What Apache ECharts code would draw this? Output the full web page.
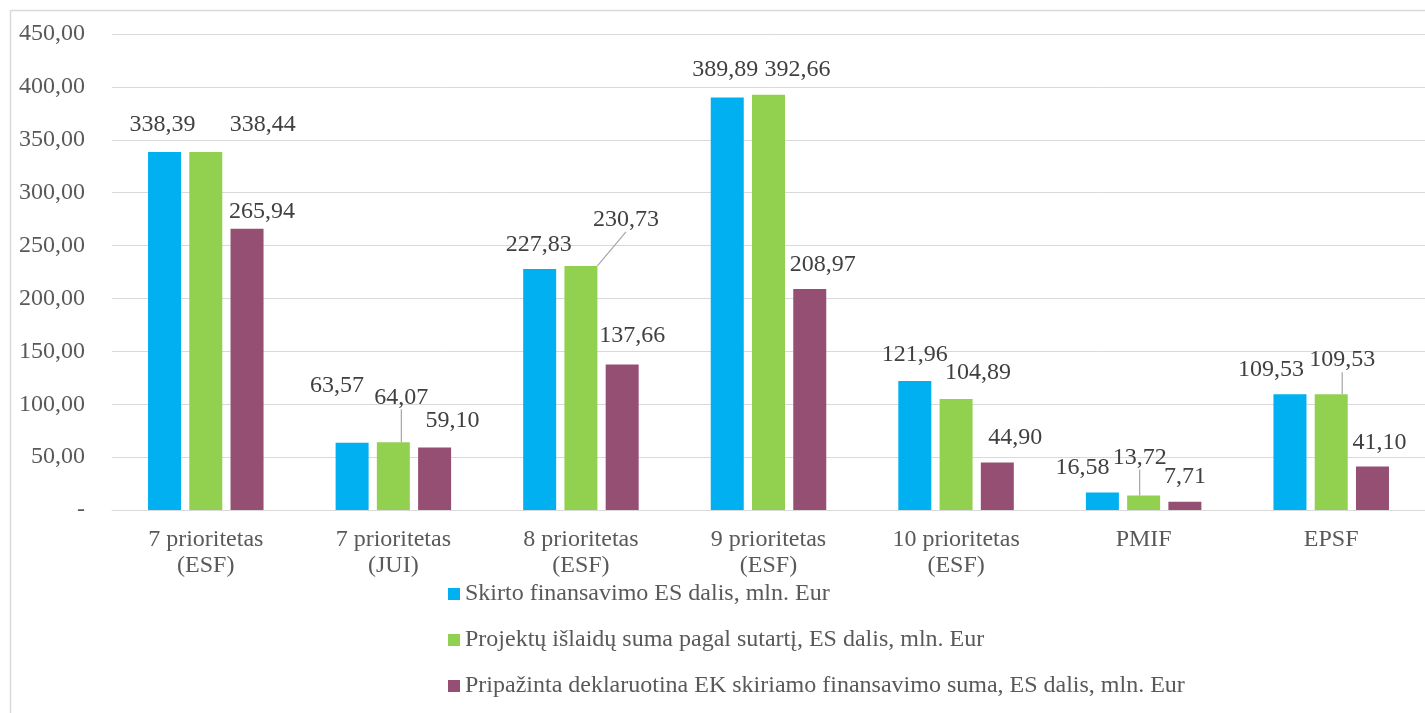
<!DOCTYPE html>
<html>
<head>
<meta charset="utf-8">
<script src="https://cdn.jsdelivr.net/npm/echarts@6/dist/echarts.min.js"></script>
<style>
html,body{margin:0;padding:0;background:#fff;}
#chart{width:1425px;height:713px;}
</style>
</head>
<body>
<div id="chart"></div>
<script>
const categories = ['7 prioritetas\n(ESF)', '7 prioritetas\n(JUI)', '8 prioritetas\n(ESF)', '9 prioritetas\n(ESF)', '10 prioritetas\n(ESF)', 'PMIF', 'EPSF'];
const seriesNames = [
  'Skirto finansavimo ES dalis, mln. Eur',
  'Projektų išlaidų suma pagal sutartį, ES dalis, mln. Eur',
  'Pripažinta deklaruotina EK skiriamo finansavimo suma, ES dalis, mln. Eur'
];
const skirto = [338.39, 63.57, 227.83, 389.89, 121.96, 16.58, 109.53];
const projektu = [338.44, 64.07, 230.73, 392.66, 104.89, 13.72, 109.53];
const pripazinta = [265.94, 59.10, 137.66, 208.97, 44.90, 7.71, 41.10];
const yTicks = { min: 0, max: 450, interval: 50 };

// label nudges (style only): [dx, dy] per series per category
const labelNudges = [
  [[-2,-10],[-15,-40],[-1,-7],[-2,-11],[0,-9],[-20,-8],[-19,-7]],
  [[57,-10],[8,-28],[45,-29],[29,-8],[22,-9],[-4,-21],[11,-17]],
  [[15,0],[18,-10],[10,-12],[13,-7],[18,-8],[0,-8],[7,-7]]
];
const leaderLines = [
  [false,false,false,false,false,false,false],
  [false,true,true,false,false,true,true],
  [false,false,false,false,false,false,false]
];
const colors = ['#00B0F0', '#92D050', '#954F72'];
const fmt = v => v.toFixed(2).replace('.', ',');
const FONT = 'Liberation Serif';
const FS = 24;

const chart = echarts.init(document.getElementById('chart'));
const allData = [skirto, projektu, pripazinta];
const series = allData.map((arr, si) => ({
  name: seriesNames[si],
  type: 'bar',
  barWidth: 33,
  barGap: '25%',
  itemStyle: { color: colors[si] },
  data: arr.map((v, i) => ({
    value: v,
    labelLine: { show: leaderLines[si][i], lineStyle: { color: '#a6a6a6', width: 1.2 }, length2: 0 }
  })),
  label: {
    show: true, position: 'top', distance: 5,
    fontFamily: FONT, fontSize: FS, color: '#404040',
    formatter: p => fmt(p.value)
  },
  labelLayout: p => ({ dx: labelNudges[si][p.dataIndex][0], dy: labelNudges[si][p.dataIndex][1] })
}));

chart.setOption({
  animation: false,
  textStyle: { fontFamily: FONT },
  grid: { left: 112, right: -7, top: 34, bottom: 203 },
  legend: {
    orient: 'vertical', left: 443, top: 577,
    itemWidth: 12, itemHeight: 12, itemGap: 22,
    icon: 'rect',
    textStyle: { fontFamily: FONT, fontSize: FS, color: '#595959' },
    data: seriesNames
  },
  xAxis: {
    type: 'category', data: categories,
    axisLine: { show: true, lineStyle: { color: '#d9d9d9' } },
    axisTick: { show: false },
    axisLabel: { fontFamily: FONT, fontSize: FS, color: '#595959', lineHeight: 26, margin: 17, interval: 0 }
  },
  yAxis: {
    type: 'value', min: yTicks.min, max: yTicks.max, interval: yTicks.interval,
    axisLine: { show: false }, axisTick: { show: false },
    splitLine: { lineStyle: { color: '#d9d9d9', width: 1 } },
    axisLabel: { fontFamily: FONT, fontSize: FS, color: '#595959', margin: 27,
      formatter: v => v === 0 ? '-' : fmt(v) }
  },
  graphic: [
    { type: 'line', shape: { x1: 10.5, y1: 10.5, x2: 1425, y2: 10.5 }, style: { stroke: '#d9d9d9', lineWidth: 1.5 } },
    { type: 'line', shape: { x1: 10.5, y1: 10.5, x2: 10.5, y2: 713 }, style: { stroke: '#d9d9d9', lineWidth: 1.5 } }
  ],
  series: series
});
</script>
</body>
</html>
